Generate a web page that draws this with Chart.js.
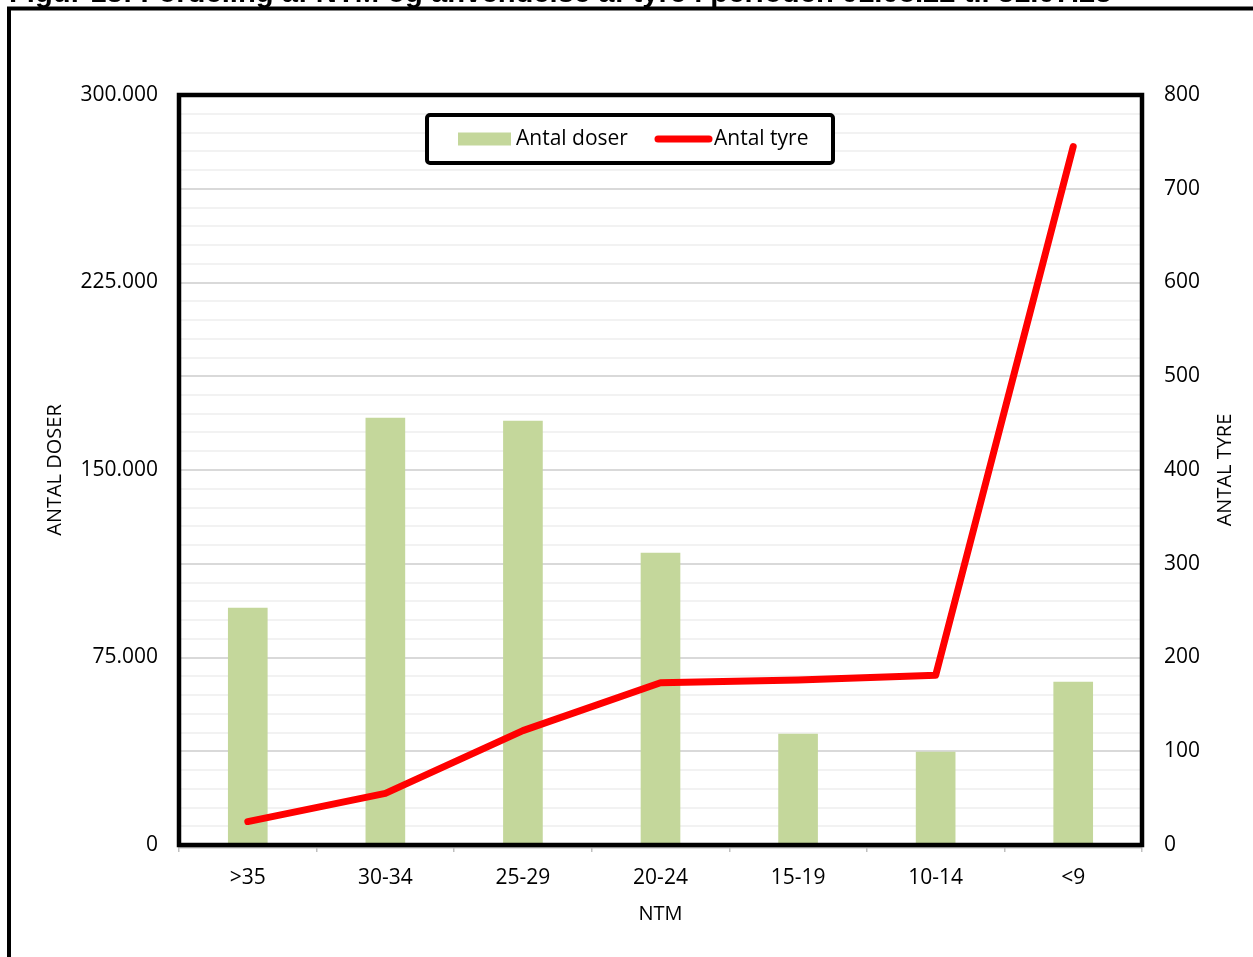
<!DOCTYPE html>
<html>
<head>
<meta charset="utf-8">
<script src="https://cdn.jsdelivr.net/npm/chart.js@4"></script>
<style>
  html, body { margin: 0; padding: 0; background: #fff; overflow: hidden; }
  #wrap { position: relative; width: 1253px; height: 957px; }
</style>
</head>
<body>
<div id="wrap"><canvas id="c" width="1253" height="957"></canvas></div>
<script>
// NTM groups and the two series
const categories = ['>35', '30-34', '25-29', '20-24', '15-19', '10-14', '<9'];
const antalDoser = [94800, 170800, 169600, 116800, 44400, 37200, 65200];
const antalTyre  = [25, 55, 122, 173, 176, 181, 745];
const seriesNames = ['Antal doser', 'Antal tyre'];
const titleText = 'Figur 13: Fordeling af NTM og anvendelse af tyre i perioden 01.08.22 til 31.07.23';
const xTitle = 'NTM';
const yTitle = 'ANTAL DOSER';
const y1Title = 'ANTAL TYRE';

const FONT = "'Open Sans', sans-serif";
const FONT_SIZE = 21;
const BAR_GREEN = '#c4d79b';
const LINE_RED = '#ff0000';

function thousands(v) {
  return String(v).replace(/\B(?=(\d{3})+(?!\d))/g, '.');
}

Chart.defaults.font.family = FONT;
Chart.defaults.font.size = FONT_SIZE;
Chart.defaults.color = '#000';

// page frame + cut-off heading at the very top, plot frame, legend and axis titles
const framePlugin = {
  id: 'frame',
  beforeDraw(chart) {
    const ctx = chart.ctx;
    ctx.save();
    ctx.fillStyle = '#fff';
    ctx.fillRect(0, 0, chart.width, chart.height);
    // heading (mostly above the visible area)
    ctx.fillStyle = '#000';
    ctx.font = "bold 100px 'Liberation Sans', Arial, sans-serif";
    const w100 = ctx.measureText(titleText).width;
    const size = 100 * 1103 / w100;
    ctx.font = "bold " + size.toFixed(2) + "px 'Liberation Sans', Arial, sans-serif";
    ctx.textBaseline = 'alphabetic';
    ctx.textAlign = 'left';
    ctx.fillText(titleText, 9, 2);
    // outer frame
    ctx.strokeStyle = '#000';
    ctx.lineWidth = 4;
    ctx.beginPath();
    ctx.moveTo(9, chart.height + 10);
    ctx.lineTo(9, 8.5);
    ctx.lineTo(chart.width + 10, 8.5);
    ctx.stroke();
    ctx.restore();
  },
  afterDraw(chart) {
    const ctx = chart.ctx;
    const a = chart.chartArea;
    ctx.save();
    // grey axis line just under the plot frame
    ctx.strokeStyle = '#bfbfbf';
    ctx.lineWidth = 2;
    ctx.beginPath();
    ctx.moveTo(a.left, a.bottom + 2.5);
    ctx.lineTo(a.right, a.bottom + 2.5);
    ctx.stroke();
    // plot frame
    ctx.strokeStyle = '#000';
    ctx.lineWidth = 4.5;
    ctx.strokeRect(a.left, a.top, a.right - a.left, a.bottom - a.top);

    // legend box
    const lx = 427, ly = 115, lw = 406, lh = 48;
    ctx.lineWidth = 4;
    ctx.beginPath();
    if (ctx.roundRect) ctx.roundRect(lx, ly, lw, lh, 3); else ctx.rect(lx, ly, lw, lh);
    ctx.fillStyle = '#fff';
    ctx.fill();
    ctx.stroke();
    const ds = chart.data.datasets;
    const cy = ly + lh / 2;
    ctx.font = FONT_SIZE + "px " + FONT;
    ctx.textBaseline = 'middle';
    ctx.textAlign = 'left';
    // bar swatch
    ctx.fillStyle = ds[0].backgroundColor;
    ctx.fillRect(458, cy - 6.5, 53, 13);
    ctx.fillStyle = '#000';
    ctx.fillText(ds[0].label, 516, cy);
    // line swatch
    ctx.strokeStyle = ds[1].borderColor;
    ctx.lineWidth = 7;
    ctx.lineCap = 'round';
    ctx.beginPath();
    ctx.moveTo(658, cy);
    ctx.lineTo(709, cy);
    ctx.stroke();
    ctx.fillText(ds[1].label, 714, cy);

    // axis titles
    ctx.fillStyle = '#000';
    ctx.textAlign = 'center';
    ctx.textBaseline = 'middle';
    ctx.font = "20px " + FONT;
    ctx.fillText(xTitle, (a.left + a.right) / 2, 914);
    ctx.save();
    ctx.translate(55, 470);
    ctx.rotate(-Math.PI / 2);
    ctx.fillText(yTitle, 0, 0);
    ctx.restore();
    ctx.save();
    ctx.translate(1225, 470);
    ctx.rotate(-Math.PI / 2);
    ctx.fillText(y1Title, 0, 0);
    ctx.restore();
    ctx.restore();
  }
};

new Chart(document.getElementById('c'), {
  data: {
    labels: categories,
    datasets: [
      {
        type: 'bar',
        label: seriesNames[0],
        data: antalDoser,
        backgroundColor: BAR_GREEN,
        barThickness: 39,
        yAxisID: 'y',
        order: 1
      },
      {
        type: 'line',
        label: seriesNames[1],
        data: antalTyre,
        borderColor: LINE_RED,
        backgroundColor: LINE_RED,
        borderWidth: 7,
        pointRadius: 0,
        tension: 0,
        borderCapStyle: 'round',
        borderJoinStyle: 'round',
        yAxisID: 'y1',
        order: 0
      }
    ]
  },
  options: {
    responsive: false,
    animation: false,
    devicePixelRatio: 1,
    layout: { padding: { top: 95, left: 0, right: 0, bottom: 0 } },
    plugins: {
      legend: { display: false },
      title: { display: false },
      tooltip: { enabled: false }
    },
    scales: {
      x: {
        offset: true,
        grid: {
          display: true,
          drawOnChartArea: false,
          drawTicks: true,
          tickLength: 7,
          color: '#bfbfbf',
          lineWidth: 1.5
        },
        border: { display: false },
        ticks: { padding: 13, color: '#000' },
        afterFit(s) { s.height = 112; }
      },
      y: {
        position: 'left',
        min: 0,
        max: 300000,
        ticks: {
          stepSize: 75000,
          padding: 21,
          color: '#000',
          callback: v => thousands(v)
        },
        grid: { display: false, drawTicks: false },
        border: { display: false },
        afterFit(s) { s.width = 179; }
      },
      y1: {
        position: 'right',
        min: 0,
        max: 800,
        ticks: {
          stepSize: 20,
          autoSkip: false,
          padding: 22,
          color: '#000',
          callback: v => (v % 100 === 0 ? String(v) : '')
        },
        grid: {
          drawTicks: false,
          lineWidth: 2,
          color: c => (c.tick && c.tick.value % 100 === 0 ? '#d9d9d9' : '#f2f2f2')
        },
        border: { display: false },
        afterFit(s) { s.width = 111; }
      }
    }
  },
  plugins: [framePlugin]
});
</script>
</body>
</html>
